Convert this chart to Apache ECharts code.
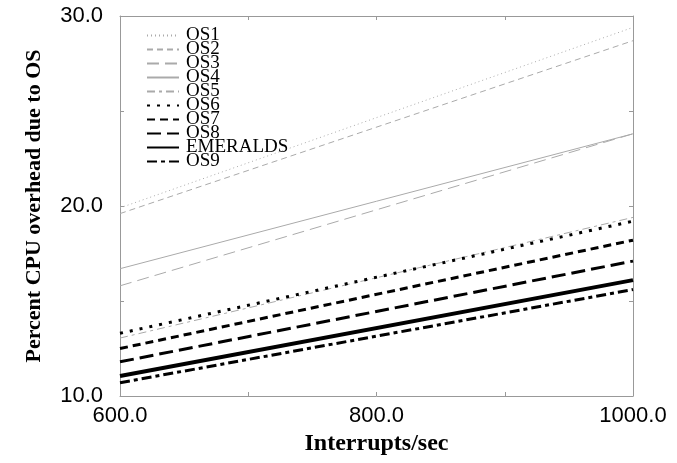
<!DOCTYPE html>
<html>
<head>
<meta charset="utf-8">
<script src="https://cdn.jsdelivr.net/npm/echarts@6/dist/echarts.min.js"></script>
<style>
html,body{margin:0;padding:0;background:#fff;}
#chart{width:677px;height:463px;}
</style>
</head>
<body>
<div id="chart"></div>
<script>
// interrupts/sec (x) and overhead (%) at each end of the lines
var xValues = [600, 1000];
var seriesNames = ['OS1', 'OS2', 'OS3', 'OS4', 'OS5', 'OS6', 'OS7', 'OS8', 'EMERALDS', 'OS9'];
var os1 = [19.9, 29.4];
var os2 = [19.6, 28.7];
var os3 = [15.8, 23.8];
var os4 = [16.7, 23.8];
var os5 = [13.05, 19.4];
var os6 = [13.3, 19.2];
var os7 = [12.5, 18.2];
var os8 = [11.8, 17.1];
var emeralds = [11.05, 16.1];
var os9 = [10.7, 15.6];
var seriesValues = [os1, os2, os3, os4, os5, os6, os7, os8, emeralds, os9];

// line looks: colour, width, dash
var styles = [
	{color: '#aaa', width: 1, type: [1, 3]},
	{color: '#aaa', width: 1, type: [6, 4]},
	{color: '#aaa', width: 1, type: [12, 6]},
	{color: '#aaa', width: 1, type: 'solid'},
	{color: '#aaa', width: 1, type: [8, 4, 3, 4]},
	{color: '#000', width: 3, type: [3, 7]},
	{color: '#000', width: 3, type: [8, 5]},
	{color: '#000', width: 3, type: [14, 6]},
	{color: '#000', width: 4, type: 'solid'},
	{color: '#000', width: 3, type: [10, 4, 4, 4]}
];

var frame = {lineStyle: {color: '#999', width: 1}};

var series = [];
for (var i = 0; i < seriesNames.length; i++) {
	var pts = [];
	for (var j = 0; j < xValues.length; j++) {
		pts.push([xValues[j], seriesValues[i][j]]);
	}
	series.push({
		name: seriesNames[i],
		type: 'line',
		symbol: 'none',
		silent: true,
		color: styles[i].color,
		lineStyle: {color: styles[i].color, width: styles[i].width, type: styles[i].type},
		data: pts
	});
}

var myChart = echarts.init(document.getElementById('chart'));
myChart.setOption({
	animation: false,
	grid: {left: 120, top: 16, right: 44, bottom: 67},
	legend: {
		orient: 'vertical',
		left: 141,
		top: 21,
		itemWidth: 32,
		itemHeight: 10,
		itemGap: -5,
		itemStyle: {opacity: 0},
		data: seriesNames,
		textStyle: {fontFamily: 'Liberation Serif', fontSize: 19, color: '#000', padding: [0, 0, 0, 2]}
	},
	xAxis: [
		{
			type: 'value', min: 600, max: 1000, interval: 100,
			name: 'Interrupts/sec', nameLocation: 'middle', nameGap: 33,
			nameTextStyle: {fontFamily: 'Liberation Serif', fontWeight: 'bold', fontSize: 24, color: '#000'},
			axisLine: frame,
			axisTick: {inside: true, length: 4, lineStyle: {color: '#999'}},
			splitLine: {show: false},
			axisLabel: {
				margin: 9, fontFamily: 'Liberation Sans', fontSize: 22, color: '#000',
				formatter: function (v) { return v % 200 === 0 ? v.toFixed(1) : ''; }
			}
		},
		{
			type: 'value', position: 'top', min: 600, max: 1000, interval: 100,
			axisLine: frame,
			axisTick: {inside: true, length: 4, lineStyle: {color: '#999'}},
			axisLabel: {show: false},
			splitLine: {show: false}
		}
	],
	yAxis: [
		{
			type: 'value', min: 10, max: 30, interval: 5,
			name: 'Percent CPU overhead due to OS', nameLocation: 'middle', nameGap: 75,
			nameTextStyle: {fontFamily: 'Liberation Serif', fontWeight: 'bold', fontSize: 22, color: '#000'},
			axisLine: {show: true, lineStyle: {color: '#999', width: 1}},
			axisTick: {show: true, inside: true, length: 4, lineStyle: {color: '#999'}},
			splitLine: {show: false},
			axisLabel: {
				margin: 17, fontFamily: 'Liberation Sans', fontSize: 22, color: '#000',
				formatter: function (v) { return v % 10 === 0 ? v.toFixed(1) : ''; }
			}
		},
		{
			type: 'value', position: 'right', min: 10, max: 30, interval: 5,
			axisLine: {show: true, lineStyle: {color: '#999', width: 1}},
			axisTick: {show: true, inside: true, length: 4, lineStyle: {color: '#999'}},
			axisLabel: {show: false},
			splitLine: {show: false}
		}
	],
	series: series
});
</script>
</body>
</html>
